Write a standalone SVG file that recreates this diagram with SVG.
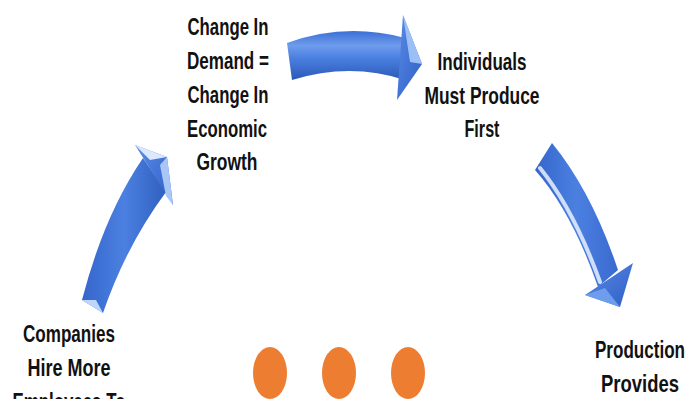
<svg xmlns="http://www.w3.org/2000/svg" width="689" height="399" viewBox="0 0 689 399">
<defs>
<linearGradient id="gTop" x1="0" y1="0" x2="0" y2="1">
<stop offset="0" stop-color="#3C6FD6"/>
<stop offset="0.3" stop-color="#6F9CEC"/>
<stop offset="0.55" stop-color="#4B80E0"/>
<stop offset="1" stop-color="#2A58B8"/>
</linearGradient>
<linearGradient id="gLeft" x1="0" y1="0" x2="1" y2="0">
<stop offset="0" stop-color="#3566CC"/>
<stop offset="0.5" stop-color="#4B80E0"/>
<stop offset="1" stop-color="#3060C0"/>
</linearGradient>
<linearGradient id="gRight" x1="0" y1="0" x2="1" y2="0">
<stop offset="0" stop-color="#3566CC"/>
<stop offset="0.5" stop-color="#4B80E0"/>
<stop offset="1" stop-color="#3A6AD0"/>
</linearGradient>
<linearGradient id="gHead" x1="0" y1="0" x2="1" y2="1">
<stop offset="0" stop-color="#5A8CE8"/>
<stop offset="1" stop-color="#2E5EC4"/>
</linearGradient>
</defs>
<style>
.lbl{font-family:"Liberation Sans",Arial,sans-serif;font-weight:bold;font-size:23px;fill:#111;text-anchor:middle}
.dot{fill:#ED7D31}
.hl{fill:none;stroke:#E8F0FF;stroke-linecap:round;opacity:0.85}
</style>
<g id="connectors">
<g id="arrow-top">
<path d="M287,43 Q345,22 405,38 L405,80 Q350,62 292,80 Z" fill="url(#gTop)"/>
<polygon points="403,15 422,64 397,100" fill="url(#gHead)"/>
<polygon points="403,15 422,64 410,62" fill="#9CC0F6"/>
</g>
<g id="arrow-right">
<path d="M552,143 Q592,192 618,270 L598,287 Q572,212 535,170 Z" fill="url(#gRight)"/>
<path d="M540,168 Q574,210 600,282" class="hl" stroke-width="4"/>
<polygon points="585,295 633,263 620,307" fill="url(#gHead)"/>
<polygon points="585,295 605,288 620,307" fill="#6E9CEE"/>
</g>
<g id="arrow-left">
<path d="M82,300 Q104,215 143,158 L166,192 Q126,246 103,313 Z" fill="url(#gLeft)"/>
<polygon points="135,145 167,157 173,205" fill="url(#gHead)"/>
<polygon points="135,145 167,157 150,160" fill="#DCE8FF"/>
<polygon points="160,165 167,157 173,205 166,196" fill="#A9C6F6"/>
<polygon points="82,300 103,313 96,300" fill="#BFD6FA"/>
</g>
</g>
<g id="node-demand">
<text class="lbl" x="228" y="35" textLength="81" lengthAdjust="spacingAndGlyphs">Change In</text>
<text class="lbl" x="228" y="69" textLength="82" lengthAdjust="spacingAndGlyphs">Demand =</text>
<text class="lbl" x="228" y="103" textLength="81" lengthAdjust="spacingAndGlyphs">Change In</text>
<text class="lbl" x="227" y="137" textLength="80" lengthAdjust="spacingAndGlyphs">Economic</text>
<text class="lbl" x="227" y="170" textLength="61" lengthAdjust="spacingAndGlyphs">Growth</text>
</g>
<g id="node-individuals">
<text class="lbl" x="482" y="70" textLength="89" lengthAdjust="spacingAndGlyphs">Individuals</text>
<text class="lbl" x="482" y="104" textLength="115" lengthAdjust="spacingAndGlyphs">Must Produce</text>
<text class="lbl" x="482" y="137" textLength="35" lengthAdjust="spacingAndGlyphs">First</text>
</g>
<g id="node-production">
<text class="lbl" x="640" y="358" textLength="90" lengthAdjust="spacingAndGlyphs">Production</text>
<text class="lbl" x="640" y="392" textLength="78" lengthAdjust="spacingAndGlyphs">Provides</text>
</g>
<g id="node-companies">
<text class="lbl" x="69" y="342" textLength="92" lengthAdjust="spacingAndGlyphs">Companies</text>
<text class="lbl" x="69" y="376" textLength="83" lengthAdjust="spacingAndGlyphs">Hire More</text>
<text class="lbl" x="69" y="410" textLength="113" lengthAdjust="spacingAndGlyphs">Employees To</text>
</g>
<g id="ellipsis">
<ellipse class="dot" cx="270" cy="373" rx="17" ry="26"/>
<ellipse class="dot" cx="339" cy="373" rx="17" ry="26"/>
<ellipse class="dot" cx="408" cy="373" rx="17" ry="26"/>
</g>
</svg>
